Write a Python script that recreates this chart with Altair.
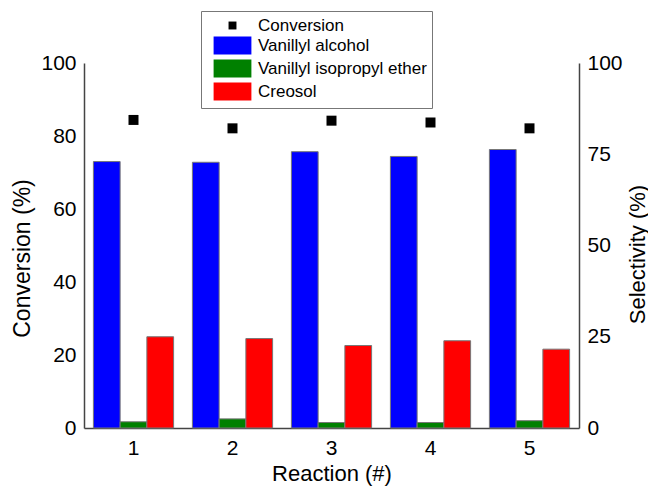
import altair as alt
import pandas as pd

# ---- data ----
reactions = [1, 2, 3, 4, 5]
conversion = [84.4, 82.1, 84.2, 83.7, 82.1]
vanillyl_alcohol = [73.0, 72.8, 75.7, 74.4, 76.3]
vanillyl_isopropyl_ether = [1.7, 2.5, 1.5, 1.5, 2.0]
creosol = [25.0, 24.5, 22.6, 23.9, 21.6]

bar_series = ["Vanillyl alcohol", "Vanillyl isopropyl ether", "Creosol"]
all_series = ["Conversion"] + bar_series
colors = ["#000000", "#0000ff", "#008000", "#ff0000"]

FONT = "Liberation Sans"

bar_rows = []
for i, r in enumerate(reactions):
    for name, vals in zip(bar_series, [vanillyl_alcohol, vanillyl_isopropyl_ether, creosol]):
        bar_rows.append({"reaction": r, "series": name, "value": vals[i]})
bars_df = pd.DataFrame(bar_rows)
conv_df = pd.DataFrame({"reaction": reactions, "series": ["Conversion"] * len(reactions),
                        "conversion": conversion})

square_path = "M-0.44,-0.44H0.44V0.44H-0.44Z"
rect_path = "M-2.1,-1H2.1V1H-2.1Z"

legend = alt.Legend(
    title=None, orient="none", legendX=117, legendY=-52, padding=5,
    strokeColor="#777777", fillColor="white", symbolSize=324,
    labelFontSize=17, labelFont=FONT, labelColor="black", labelOffset=16,
    labelLimit=400, symbolOffset=17,
    rowPadding=0, symbolStrokeColor="#777777", symbolStrokeWidth=1, symbolOpacity=1,
)

color = alt.Color("series:N", scale=alt.Scale(domain=all_series, range=colors), legend=legend)
shape = alt.Shape("series:N",
                  scale=alt.Scale(domain=all_series,
                                  range=[square_path, rect_path, rect_path, rect_path]),
                  legend=legend)

x_enc = alt.X("reaction:O",
              scale=alt.Scale(paddingInner=0.19, paddingOuter=0.095),
              axis=alt.Axis(title="Reaction (#)", labelAngle=0, labelPadding=9,
                            titleY=45, titleFontSize=22, titleBaseline="middle"))

bars = alt.Chart(bars_df).mark_bar(stroke="#777777", strokeWidth=1, opacity=1).encode(
    x=x_enc,
    xOffset=alt.XOffset("series:N", scale=alt.Scale(domain=bar_series, paddingInner=0, paddingOuter=0)),
    y=alt.Y("value:Q", scale=alt.Scale(domain=[0, 100]),
            axis=alt.Axis(orient="right", values=[0, 25, 50, 75, 100], title="Selectivity (%)",
                          titleAngle=270, labelPadding=8, titleX=58, titleY=191,
                          titleFontSize=22, titleBaseline="middle", titleAlign="center")),
    color=color,
)

points = alt.Chart(conv_df).mark_point(filled=True, opacity=1, size=516).encode(
    x=x_enc,
    y=alt.Y("conversion:Q", scale=alt.Scale(domain=[0, 100]),
            axis=alt.Axis(orient="left", values=[0, 20, 40, 60, 80, 100], title="Conversion (%)",
                          labelPadding=8, titleAngle=270, titleX=-62, titleY=195,
                          titleBaseline="middle", titleAlign="center")),
    color=color,
    shape=shape,
)

chart = alt.layer(bars, points).resolve_scale(y="independent").properties(
    width=495, height=365,
    padding={"left": 76, "top": 55, "right": 69, "bottom": 60},
    autosize=alt.AutoSizeParams(type="none"),
).configure_view(stroke=None).configure_axis(
    ticks=False, grid=False, domainColor="#444444", domainWidth=1.5,
    labelFont=FONT, labelFontSize=21, labelColor="black",
    titleFont=FONT, titleFontSize=23, titleFontWeight="normal", titleColor="black",
)

chart.save("out.html", embed_options={"renderer": "svg", "actions": False})
